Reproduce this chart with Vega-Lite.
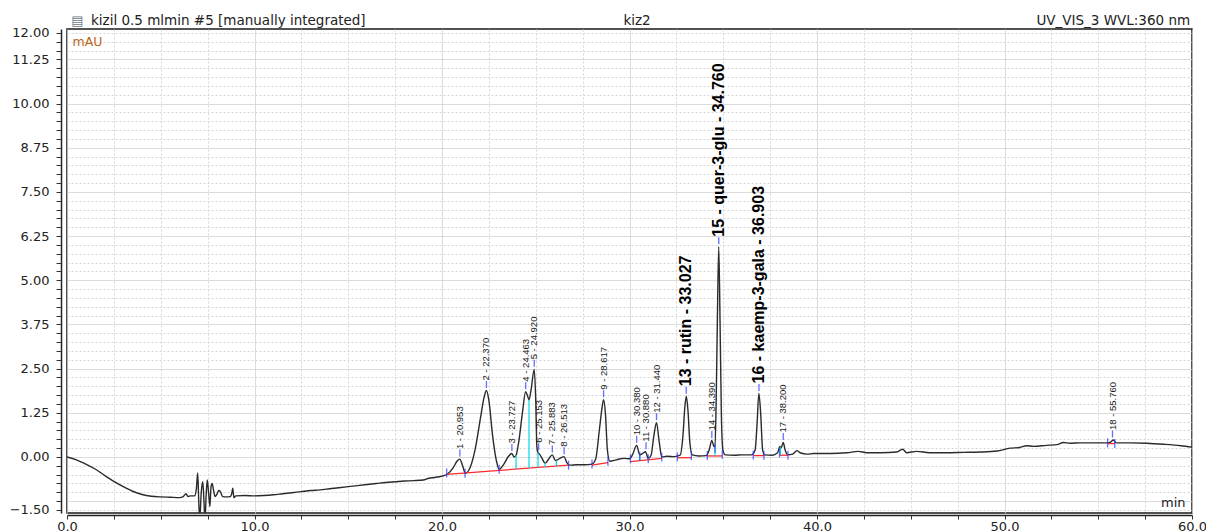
{
  "$schema": "https://vega.github.io/schema/vega-lite/v6.json",
  "width": 1125,
  "height": 484,
  "autosize": {"type": "none"},
  "padding": {"left": 67, "top": 29, "right": 14, "bottom": 19},
  "background": "white",
  "config": {
    "view": {"stroke": "#1a1a1a", "strokeWidth": 1.5},
    "font": "DejaVu Sans",
    "axis": {"labelOverlap": false}
  },
  "datasets": {
    "trace": [
      {"t":0,"v":0.0},{"t":0.5,"v":-0.08},{"t":1.0,"v":-0.2},{"t":1.5,"v":-0.34},{"t":2.0,"v":-0.52},{"t":2.5,"v":-0.69},{"t":3.0,"v":-0.84},{"t":3.5,"v":-0.97},{"t":4.0,"v":-1.06},{"t":4.5,"v":-1.11},{"t":5.0,"v":-1.13},{"t":5.5,"v":-1.14},{"t":6.0,"v":-1.15},{"t":6.2,"v":-1.12},{"t":6.35,"v":-1.04},{"t":6.45,"v":-1.12},{"t":6.6,"v":-1.1},{"t":6.8,"v":-1.1},{"t":6.9,"v":-0.9},{"t":6.97,"v":-0.45},{"t":7.03,"v":-1.3},{"t":7.08,"v":-1.75},{"t":7.16,"v":-1.0},{"t":7.24,"v":-0.7},{"t":7.3,"v":-1.2},{"t":7.36,"v":-1.8},{"t":7.42,"v":-1.1},{"t":7.48,"v":-0.65},{"t":7.55,"v":-1.0},{"t":7.62,"v":-1.4},{"t":7.68,"v":-0.85},{"t":7.74,"v":-0.75},{"t":7.82,"v":-0.95},{"t":7.9,"v":-1.12},{"t":8.0,"v":-1.05},{"t":8.1,"v":-0.95},{"t":8.18,"v":-0.98},{"t":8.3,"v":-1.12},{"t":8.5,"v":-1.13},{"t":8.7,"v":-1.12},{"t":8.8,"v":-1.0},{"t":8.84,"v":-0.88},{"t":8.9,"v":-1.15},{"t":9.0,"v":-1.1},{"t":9.5,"v":-1.09},{"t":10.0,"v":-1.1},{"t":10.5,"v":-1.09},{"t":11.0,"v":-1.07},{"t":11.5,"v":-1.04},{"t":12.0,"v":-1.01},{"t":12.5,"v":-0.98},{"t":13.0,"v":-0.95},{"t":13.5,"v":-0.93},{"t":14.0,"v":-0.9},{"t":14.5,"v":-0.87},{"t":15.0,"v":-0.84},{"t":15.5,"v":-0.81},{"t":16.0,"v":-0.78},{"t":16.5,"v":-0.75},{"t":17.0,"v":-0.72},{"t":17.5,"v":-0.7},{"t":18.0,"v":-0.68},{"t":18.5,"v":-0.67},{"t":19.0,"v":-0.65},{"t":19.3,"v":-0.6},{"t":19.6,"v":-0.58},{"t":20.0,"v":-0.54},{"t":20.3,"v":-0.48},{"t":20.6,"v":-0.3},{"t":20.8,"v":-0.12},{"t":20.95,"v":-0.06},{"t":21.1,"v":-0.25},{"t":21.25,"v":-0.46},{"t":21.5,"v":-0.3},{"t":21.8,"v":0.3},{"t":22.05,"v":1.1},{"t":22.25,"v":1.7},{"t":22.37,"v":1.88},{"t":22.5,"v":1.6},{"t":22.7,"v":0.6},{"t":22.9,"v":-0.1},{"t":23.05,"v":-0.35},{"t":23.3,"v":-0.2},{"t":23.55,"v":0.02},{"t":23.72,"v":0.1},{"t":23.85,"v":0.0},{"t":23.95,"v":0.05},{"t":24.1,"v":0.45},{"t":24.3,"v":1.3},{"t":24.46,"v":1.85},{"t":24.55,"v":1.75},{"t":24.64,"v":1.62},{"t":24.75,"v":1.9},{"t":24.92,"v":2.48},{"t":25.0,"v":1.6},{"t":25.06,"v":0.3},{"t":25.12,"v":0.12},{"t":25.2,"v":0.08},{"t":25.35,"v":-0.05},{"t":25.5,"v":-0.18},{"t":25.7,"v":-0.05},{"t":25.88,"v":0.06},{"t":26.05,"v":-0.1},{"t":26.15,"v":-0.08},{"t":26.35,"v":-0.02},{"t":26.51,"v":0.01},{"t":26.65,"v":-0.15},{"t":26.8,"v":-0.23},{"t":27.2,"v":-0.22},{"t":27.6,"v":-0.22},{"t":28.0,"v":-0.2},{"t":28.2,"v":-0.05},{"t":28.4,"v":0.8},{"t":28.55,"v":1.45},{"t":28.62,"v":1.62},{"t":28.72,"v":1.2},{"t":28.82,"v":0.2},{"t":28.95,"v":-0.12},{"t":29.3,"v":-0.08},{"t":29.7,"v":-0.04},{"t":30.0,"v":-0.05},{"t":30.15,"v":0.05},{"t":30.38,"v":0.33},{"t":30.55,"v":0.06},{"t":30.7,"v":0.1},{"t":30.85,"v":0.15},{"t":31.0,"v":-0.04},{"t":31.15,"v":0.05},{"t":31.3,"v":0.6},{"t":31.44,"v":0.97},{"t":31.58,"v":0.45},{"t":31.72,"v":0.0},{"t":32.0,"v":0.02},{"t":32.4,"v":0.01},{"t":32.7,"v":0.05},{"t":32.85,"v":0.6},{"t":32.95,"v":1.4},{"t":33.03,"v":1.72},{"t":33.12,"v":1.3},{"t":33.22,"v":0.4},{"t":33.35,"v":0.06},{"t":33.7,"v":0.03},{"t":34.1,"v":0.04},{"t":34.25,"v":0.2},{"t":34.39,"v":0.47},{"t":34.5,"v":0.3},{"t":34.56,"v":0.29},{"t":34.62,"v":1.5},{"t":34.69,"v":4.0},{"t":34.76,"v":5.95},{"t":34.83,"v":3.8},{"t":34.9,"v":1.2},{"t":34.98,"v":0.2},{"t":35.1,"v":0.06},{"t":35.6,"v":0.05},{"t":36.0,"v":0.06},{"t":36.5,"v":0.06},{"t":36.7,"v":0.2},{"t":36.8,"v":0.9},{"t":36.9,"v":1.8},{"t":37.0,"v":1.2},{"t":37.1,"v":0.2},{"t":37.2,"v":0.06},{"t":37.6,"v":0.05},{"t":37.9,"v":0.12},{"t":38.02,"v":0.3},{"t":38.08,"v":0.25},{"t":38.2,"v":0.41},{"t":38.3,"v":0.2},{"t":38.45,"v":0.06},{"t":38.7,"v":0.08},{"t":38.93,"v":0.18},{"t":39.1,"v":0.12},{"t":39.47,"v":0.08},{"t":39.8,"v":0.1},{"t":40.7,"v":0.1},{"t":41.6,"v":0.12},{"t":42.2,"v":0.16},{"t":42.65,"v":0.12},{"t":43.4,"v":0.12},{"t":44.25,"v":0.14},{"t":44.57,"v":0.22},{"t":44.78,"v":0.12},{"t":45.32,"v":0.16},{"t":46.0,"v":0.12},{"t":46.9,"v":0.12},{"t":47.8,"v":0.13},{"t":48.7,"v":0.14},{"t":49.6,"v":0.17},{"t":50.3,"v":0.25},{"t":50.8,"v":0.27},{"t":51.18,"v":0.32},{"t":51.54,"v":0.3},{"t":52.25,"v":0.33},{"t":52.8,"v":0.35},{"t":53.14,"v":0.41},{"t":53.49,"v":0.39},{"t":54.03,"v":0.4},{"t":54.9,"v":0.4},{"t":55.5,"v":0.4},{"t":55.65,"v":0.42},{"t":55.8,"v":0.48},{"t":55.95,"v":0.4},{"t":56.7,"v":0.4},{"t":57.6,"v":0.39},{"t":58.5,"v":0.36},{"t":59.4,"v":0.32},{"t":60.0,"v":0.28}
    ],
    "peaks": [
      {"label":"1 - 20.953","t":20.953,"apex":-0.06,"kind":"minor"},
      {"label":"2 - 22.370","t":22.37,"apex":1.88,"kind":"minor"},
      {"label":"3 - 23.727","t":23.727,"apex":0.1,"kind":"minor"},
      {"label":"4 - 24.463","t":24.463,"apex":1.85,"kind":"minor"},
      {"label":"5 - 24.920","t":24.92,"apex":2.48,"kind":"minor"},
      {"label":"6 - 25.153","t":25.153,"apex":0.12,"kind":"minor"},
      {"label":"7 - 25.883","t":25.883,"apex":0.06,"kind":"minor"},
      {"label":"8 - 26.513","t":26.513,"apex":0.01,"kind":"minor"},
      {"label":"9 - 28.617","t":28.617,"apex":1.62,"kind":"minor"},
      {"label":"10 - 30.380","t":30.38,"apex":0.33,"kind":"minor"},
      {"label":"11 - 30.880","t":30.88,"apex":0.15,"kind":"minor"},
      {"label":"12 - 31.440","t":31.44,"apex":0.97,"kind":"minor"},
      {"label":"13 - rutin - 33.027","t":33.027,"apex":1.72,"kind":"major"},
      {"label":"14 - 34.390","t":34.39,"apex":0.47,"kind":"minor"},
      {"label":"15 - quer-3-glu - 34.760","t":34.76,"apex":5.95,"kind":"major"},
      {"label":"16 - kaemp-3-gala - 36.903","t":36.903,"apex":1.8,"kind":"major"},
      {"label":"17 - 38.200","t":38.2,"apex":0.41,"kind":"minor"},
      {"label":"18 - 55.760","t":55.76,"apex":0.48,"kind":"minor"}
    ],
    "baselines": [
      {"t0":20.25,"b0":-0.49,"t1":26.75,"b1":-0.23},
      {"t0":28.0,"b0":-0.23,"t1":28.85,"b1":-0.16},
      {"t0":30.05,"b0":-0.13,"t1":31.72,"b1":-0.04},
      {"t0":32.55,"b0":-0.02,"t1":33.3,"b1":-0.02},
      {"t0":34.15,"b0":0.03,"t1":34.95,"b1":0.03},
      {"t0":36.6,"b0":0.04,"t1":37.17,"b1":0.04},
      {"t0":38.0,"b0":0.05,"t1":38.45,"b1":0.05},
      {"t0":55.5,"b0":0.38,"t1":55.88,"b1":0.38}
    ],
    "drops": [
      {"t":23.95,"y0":-0.34,"y1":0.05},
      {"t":24.64,"y0":-0.32,"y1":1.62},
      {"t":25.12,"y0":-0.3,"y1":0.12},
      {"t":25.5,"y0":-0.28,"y1":-0.18},
      {"t":26.1,"y0":-0.26,"y1":-0.1},
      {"t":30.55,"y0":-0.1,"y1":0.06},
      {"t":31.0,"y0":-0.08,"y1":-0.04},
      {"t":34.56,"y0":0.03,"y1":0.29},
      {"t":38.05,"y0":0.05,"y1":0.28}
    ],
    "bounds": [
      {"t":20.25,"v":-0.45},{"t":21.23,"v":-0.46},{"t":23.05,"v":-0.35},{"t":26.75,"v":-0.23},
      {"t":28.0,"v":-0.2},{"t":28.85,"v":-0.12},{"t":30.05,"v":-0.05},{"t":30.55,"v":0.02},
      {"t":31.0,"v":-0.05},{"t":31.72,"v":0.0},{"t":32.55,"v":0.01},{"t":33.3,"v":0.04},
      {"t":34.15,"v":0.04},{"t":34.56,"v":0.25},{"t":34.95,"v":0.08},{"t":36.6,"v":0.06},
      {"t":37.17,"v":0.05},{"t":38.0,"v":0.12},{"t":38.45,"v":0.05},{"t":55.5,"v":0.4},{"t":55.88,"v":0.38}
    ]
  },
  "layer": [
    {
      "data": {"name": "trace"},
      "mark": {"type": "line", "color": "#2b2b2b", "strokeWidth": 1.4, "clip": true, "interpolate": "monotone"},
      "encoding": {
        "x": {
          "field": "t", "type": "quantitative",
          "scale": {"domain": [0, 60], "nice": false, "zero": false},
          "axis": {
            "values": [0,2.5,5,7.5,10,12.5,15,17.5,20,22.5,25,27.5,30,32.5,35,37.5,40,42.5,45,47.5,50,52.5,55,57.5,60],
            "tickCount": 100,
            "labelExpr": "datum.value % 10 === 0 ? format(datum.value, '.1f') : ''",
            "labelOverlap": false, "labelFlush": false,
            "labelFont": "DejaVu Sans", "labelFontSize": 13, "labelColor": "#222",
            "labelPadding": 1,
            "offset": 2, "tickSize": 4, "tickColor": "#333", "tickWidth": 1,
            "domainColor": "#222", "domainWidth": 1.5,
            "grid": true,
            "gridColor": {"condition": {"test": "datum.value % 10 === 0", "value": "#cfcfcf"}, "value": "#d6d6d6"},
            "gridDash": {"condition": {"test": "datum.value % 10 === 0", "value": [1, 0]}, "value": [2, 2]},
            "gridWidth": 1,
            "title": "min", "titleFont": "DejaVu Sans", "titleFontSize": 13, "titleFontWeight": "normal",
            "titleColor": "#222", "titleAlign": "right", "titleBaseline": "alphabetic",
            "titleX": 1118, "titleY": -9
          }
        },
        "y": {
          "field": "v", "type": "quantitative",
          "scale": {"domain": [-1.585, 12.113], "nice": false, "zero": false},
          "axis": {
            "values": [-1.5,-1.25,-1,-0.75,-0.5,-0.25,0,0.25,0.5,0.75,1,1.25,1.5,1.75,2,2.25,2.5,2.75,3,3.25,3.5,3.75,4,4.25,4.5,4.75,5,5.25,5.5,5.75,6,6.25,6.5,6.75,7,7.25,7.5,7.75,8,8.25,8.5,8.75,9,9.25,9.5,9.75,10,10.25,10.5,10.75,11,11.25,11.5,11.75,12],
            "tickCount": 200,
            "labelExpr": "indexof([-1.5,0,1.25,2.5,3.75,5,6.25,7.5,8.75,10,11.25,12], datum.value) >= 0 ? format(datum.value, '.2f') : ''",
            "labelOverlap": false, "labelFlush": false,
            "labelFont": "DejaVu Sans", "labelColor": "#222", "labelFontSize": 13,
            "labelPadding": 7,
            "offset": 6, "tickSize": 5, "tickColor": "#333", "tickWidth": 1,
            "domainColor": "#222", "domainWidth": 1.5,
            "grid": true,
            "gridColor": {"condition": {"test": "datum.value % 1.25 === 0", "value": "#cfcfcf"}, "value": "#d6d6d6"},
            "gridDash": {"condition": {"test": "datum.value % 1.25 === 0", "value": [1, 0]}, "value": [2, 2]},
            "gridWidth": 1,
            "title": "mAU", "titleFont": "DejaVu Sans", "titleFontSize": 12.5, "titleFontWeight": "normal",
            "titleColor": "#b8661a", "titleAngle": 0, "titleAlign": "left", "titleBaseline": "top",
            "titleX": 11, "titleY": 6
          }
        }
      }
    },
    {
      "data": {"name": "baselines"},
      "mark": {"type": "rule", "color": "#ff2a2a", "strokeWidth": 1.3},
      "encoding": {
        "x": {"field": "t0", "type": "quantitative"},
        "y": {"field": "b0", "type": "quantitative"},
        "x2": {"field": "t1"},
        "y2": {"field": "b1"}
      }
    },
    {
      "data": {"name": "drops"},
      "mark": {"type": "rule", "color": "#00d8e8", "strokeWidth": 1.2},
      "encoding": {
        "x": {"field": "t", "type": "quantitative"},
        "y": {"field": "y0", "type": "quantitative"},
        "y2": {"field": "y1"}
      }
    },
    {
      "data": {"name": "bounds"},
      "mark": {"type": "tick", "orient": "vertical", "color": "#2233ff", "size": 9, "thickness": 1.3},
      "encoding": {
        "x": {"field": "t", "type": "quantitative"},
        "y": {"field": "v", "type": "quantitative"}
      }
    },
    {
      "data": {"name": "peaks"},
      "mark": {"type": "tick", "orient": "vertical", "color": "#2233ff", "size": 7, "thickness": 1.3, "yOffset": -6},
      "encoding": {
        "x": {"field": "t", "type": "quantitative"},
        "y": {"field": "apex", "type": "quantitative"}
      }
    },
    {
      "data": {"name": "peaks"},
      "transform": [{"filter": "datum.kind === 'minor'"}],
      "mark": {"type": "text", "angle": 270, "align": "left", "baseline": "middle", "dx": 10,
               "font": "Liberation Sans", "fontSize": 9.5, "color": "#1a1a1a"},
      "encoding": {
        "x": {"field": "t", "type": "quantitative"},
        "y": {"field": "apex", "type": "quantitative"},
        "text": {"field": "label"}
      }
    },
    {
      "data": {"name": "peaks"},
      "transform": [{"filter": "datum.kind === 'major'"}],
      "mark": {"type": "text", "angle": 270, "align": "left", "baseline": "middle", "dx": 10,
               "font": "Liberation Sans", "fontSize": 16, "fontWeight": "bold", "color": "#000"},
      "encoding": {
        "x": {"field": "t", "type": "quantitative"},
        "y": {"field": "apex", "type": "quantitative"},
        "text": {"field": "label"}
      }
    },
    {
      "data": {"values": [{}]},
      "mark": {"type": "text", "text": "kizil 0.5 mlmin #5 [manually integrated]", "align": "left", "baseline": "alphabetic",
               "dy": -4, "fontSize": 13.5, "font": "DejaVu Sans", "color": "#222"},
      "encoding": {
        "x": {"datum": 1.28, "type": "quantitative"},
        "y": {"datum": 12.113, "type": "quantitative"}
      }
    },
    {
      "data": {"values": [{}]},
      "mark": {"type": "text", "text": "▤", "align": "left", "baseline": "alphabetic",
               "dy": -4, "fontSize": 13, "font": "DejaVu Sans", "color": "#6b7785"},
      "encoding": {
        "x": {"datum": 0.22, "type": "quantitative"},
        "y": {"datum": 12.113, "type": "quantitative"}
      }
    },
    {
      "data": {"values": [{}]},
      "mark": {"type": "text", "text": "kiz2", "align": "center", "baseline": "alphabetic",
               "dy": -4, "fontSize": 13.5, "font": "DejaVu Sans", "color": "#222"},
      "encoding": {
        "x": {"datum": 30.4, "type": "quantitative"},
        "y": {"datum": 12.113, "type": "quantitative"}
      }
    },
    {
      "data": {"values": [{}]},
      "mark": {"type": "text", "text": "UV_VIS_3 WVL:360 nm", "align": "right", "baseline": "alphabetic",
               "dy": -4, "fontSize": 13.5, "font": "DejaVu Sans", "color": "#222"},
      "encoding": {
        "x": {"datum": 59.9, "type": "quantitative"},
        "y": {"datum": 12.113, "type": "quantitative"}
      }
    }
  ]
}
